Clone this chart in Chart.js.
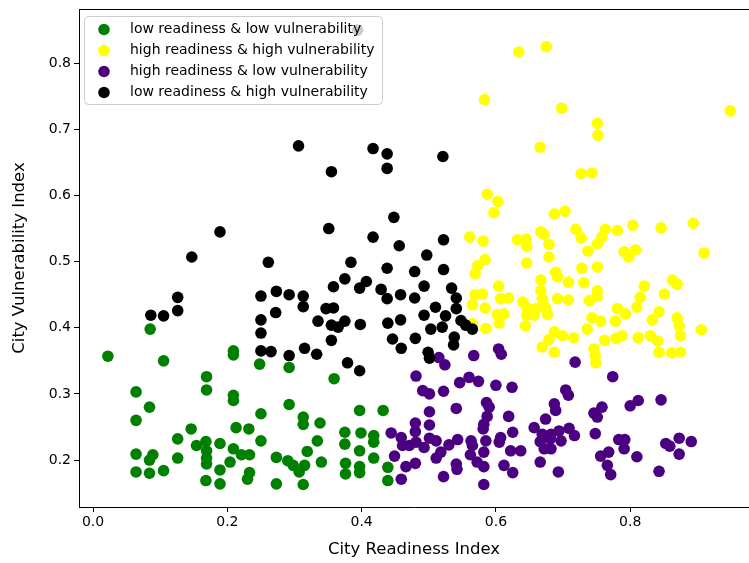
<!DOCTYPE html>
<html>
<head>
<meta charset="utf-8">
<script src="https://cdn.jsdelivr.net/npm/chart.js@4.4.1/dist/chart.umd.min.js"></script>
<style>
  html, body { margin: 0; padding: 0; background: #fff; overflow: hidden; }
  #wrap { width: 749px; height: 563px; overflow: hidden; }
  canvas { display: block; }
</style>
</head>
<body>
<div id="wrap"><canvas id="myChart" width="749" height="563"></canvas></div>
<script>
// [readiness, vulnerability] per city
var lowLow = [
  [0.022,0.357],[0.105,0.350],[0.085,0.398],[0.209,0.365],[0.209,0.359],[0.169,0.326],
  [0.169,0.306],[0.064,0.303],[0.209,0.298],[0.209,0.290],[0.084,0.280],[0.064,0.260],
  [0.146,0.247],[0.213,0.249],[0.126,0.232],[0.154,0.222],[0.168,0.228],[0.189,0.225],
  [0.169,0.214],[0.209,0.217],[0.221,0.208],[0.064,0.209],[0.089,0.208],[0.084,0.200],
  [0.126,0.203],[0.169,0.203],[0.169,0.194],[0.204,0.197],[0.064,0.182],[0.084,0.180],
  [0.105,0.184],[0.189,0.185],[0.168,0.169],[0.189,0.164],
  [0.248,0.345],[0.292,0.340],[0.359,0.323],[0.292,0.284],[0.250,0.270],[0.397,0.275],
  [0.432,0.275],[0.313,0.265],[0.313,0.254],[0.338,0.256],[0.232,0.247],[0.375,0.242],
  [0.399,0.241],[0.418,0.237],[0.250,0.229],[0.334,0.229],[0.375,0.224],[0.418,0.227],
  [0.397,0.214],[0.319,0.213],[0.233,0.208],[0.273,0.204],[0.418,0.203],[0.290,0.199],
  [0.298,0.192],[0.315,0.192],[0.340,0.197],[0.307,0.182],[0.376,0.195],[0.397,0.190],
  [0.376,0.179],[0.397,0.181],[0.233,0.181],[0.230,0.171],[0.439,0.189],[0.439,0.169],
  [0.273,0.164],[0.313,0.163]
];
var highHigh = [
  [0.634,0.817],[0.675,0.825],[0.583,0.745],[0.698,0.732],[0.666,0.673],[0.727,0.633],
  [0.949,0.728],[0.751,0.709],[0.752,0.691],[0.743,0.634],
  [0.587,0.602],[0.603,0.591],[0.597,0.574],[0.687,0.572],[0.703,0.576],[0.561,0.537],
  [0.581,0.531],[0.632,0.533],[0.645,0.534],[0.646,0.523],[0.667,0.545],[0.672,0.541],
  [0.679,0.526],[0.719,0.549],[0.727,0.536],[0.679,0.507],[0.584,0.503],[0.573,0.494],
  [0.569,0.482],[0.646,0.498],[0.728,0.490],[0.689,0.484],[0.692,0.477],[0.667,0.472],
  [0.708,0.469],[0.731,0.468],[0.604,0.463],[0.667,0.456],[0.569,0.450],[0.580,0.451],
  [0.607,0.444],[0.619,0.445],[0.640,0.439],[0.669,0.444],[0.692,0.444],[0.708,0.442],
  [0.565,0.435],[0.584,0.430],[0.646,0.431],[0.660,0.429],[0.674,0.431],[0.602,0.420],
  [0.612,0.421],[0.646,0.419],[0.657,0.419],[0.677,0.420],[0.585,0.399],[0.605,0.407],
  [0.644,0.403],[0.565,0.406],[0.687,0.394],[0.699,0.388],[0.716,0.385],[0.679,0.382],
  [0.804,0.555],[0.846,0.551],[0.894,0.558],[0.763,0.549],[0.781,0.547],[0.758,0.537],
  [0.751,0.527],[0.737,0.516],[0.791,0.515],[0.808,0.518],[0.798,0.507],[0.910,0.513],
  [0.751,0.492],[0.863,0.472],[0.870,0.466],[0.821,0.463],[0.751,0.456],[0.751,0.448],
  [0.851,0.451],[0.739,0.441],[0.815,0.446],[0.810,0.431],[0.781,0.429],[0.793,0.421],
  [0.843,0.424],[0.833,0.412],[0.870,0.415],[0.743,0.415],[0.756,0.410],[0.778,0.410],
  [0.873,0.403],[0.875,0.388],[0.906,0.397],[0.736,0.398],[0.762,0.381],[0.779,0.384],
  [0.788,0.388],[0.812,0.385],[0.830,0.388],[0.841,0.380],[0.843,0.363],[0.862,0.362],
  [0.875,0.363],[0.746,0.368],[0.748,0.358],[0.749,0.347],[0.669,0.371],[0.687,0.363]
];
var highLow = [
  [0.774,0.326],[0.846,0.291],[0.812,0.290],[0.800,0.282],[0.758,0.280],[0.746,0.271],
  [0.751,0.265],[0.748,0.240],[0.783,0.231],[0.792,0.231],[0.791,0.217],[0.853,0.225],
  [0.859,0.221],[0.873,0.233],[0.891,0.228],[0.873,0.209],[0.768,0.212],[0.756,0.206],
  [0.810,0.205],[0.766,0.192],[0.771,0.178],[0.843,0.183],
  [0.515,0.355],[0.524,0.344],[0.567,0.358],[0.604,0.368],[0.608,0.360],[0.718,0.348],
  [0.481,0.327],[0.546,0.317],[0.560,0.325],[0.574,0.319],[0.600,0.313],[0.624,0.310],
  [0.491,0.305],[0.501,0.300],[0.522,0.304],[0.704,0.306],[0.708,0.298],[0.586,0.287],
  [0.541,0.278],[0.590,0.280],[0.687,0.285],[0.689,0.275],[0.501,0.273],[0.587,0.266],
  [0.619,0.266],[0.674,0.262],[0.480,0.256],[0.501,0.253],[0.582,0.254],[0.657,0.249],
  [0.581,0.247],[0.709,0.248],[0.480,0.243],[0.625,0.242],[0.669,0.239],[0.682,0.239],
  [0.694,0.244],[0.717,0.237],[0.501,0.233],[0.511,0.229],[0.543,0.231],[0.563,0.229],
  [0.585,0.229],[0.607,0.234],[0.605,0.227],[0.481,0.227],[0.493,0.219],[0.530,0.223],
  [0.565,0.222],[0.666,0.228],[0.681,0.232],[0.697,0.229],[0.672,0.217],[0.682,0.217],
  [0.622,0.214],[0.637,0.214],[0.582,0.212],[0.518,0.212],[0.562,0.208],[0.511,0.203],
  [0.572,0.197],[0.480,0.195],[0.541,0.194],[0.666,0.197],[0.612,0.192],[0.582,0.190],
  [0.542,0.186],[0.625,0.181],[0.522,0.175],[0.693,0.182],[0.582,0.163],
  [0.444,0.241],[0.459,0.234],[0.471,0.222],[0.449,0.206],[0.466,0.190],[0.459,0.171],
  [0.461,0.222]
];
var lowHigh = [
  [0.394,0.850],[0.306,0.675],[0.417,0.671],[0.438,0.663],[0.438,0.641],[0.355,0.636],
  [0.521,0.659],[0.189,0.545],[0.147,0.507],[0.126,0.446],[0.126,0.426],[0.086,0.419],
  [0.105,0.418],
  [0.448,0.567],[0.351,0.550],[0.417,0.537],[0.456,0.524],[0.261,0.499],[0.384,0.499],
  [0.438,0.490],[0.479,0.485],[0.375,0.474],[0.407,0.470],[0.358,0.462],[0.397,0.460],
  [0.429,0.458],[0.273,0.455],[0.292,0.450],[0.250,0.448],[0.313,0.448],[0.438,0.444],
  [0.458,0.450],[0.479,0.445],[0.313,0.432],[0.347,0.429],[0.358,0.430],[0.272,0.423],
  [0.250,0.412],[0.335,0.410],[0.375,0.410],[0.355,0.404],[0.365,0.401],[0.398,0.405],
  [0.439,0.407],[0.458,0.412],[0.250,0.392],[0.355,0.381],[0.446,0.383],[0.480,0.384],
  [0.522,0.533],[0.497,0.510],[0.522,0.488],[0.493,0.463],[0.534,0.460],[0.541,0.445],
  [0.510,0.431],[0.541,0.429],[0.525,0.418],[0.493,0.419],[0.548,0.411],[0.555,0.404],
  [0.503,0.398],[0.520,0.401],[0.565,0.398],[0.538,0.386],[0.537,0.374],[0.499,0.363],
  [0.501,0.354],
  [0.250,0.365],[0.265,0.364],[0.292,0.358],[0.315,0.369],[0.333,0.360],[0.379,0.347],
  [0.397,0.335],[0.459,0.369]
];

var groupNames = [
  'low readiness & low vulnerability',
  'high readiness & high vulnerability',
  'high readiness & low vulnerability',
  'low readiness & high vulnerability'
];
var groupColors = ['green', 'yellow', 'indigo', 'black'];
var xTicks = [0.0, 0.2, 0.4, 0.6, 0.8];
var yTicks = [0.2, 0.3, 0.4, 0.5, 0.6, 0.7, 0.8];

function toPoints(arr) {
  return arr.map(function(p) { return {x: p[0], y: p[1]}; });
}

const tickFont = {family: 'DejaVu Sans', size: 14};
const titleFont = {family: 'DejaVu Sans', size: 16.5};

// matplotlib-like legend box drawn on top of the points
const boxLegend = {
  id: 'boxLegend',
  afterDraw(chart) {
    const ctx = chart.ctx;
    const x0 = 84, y0 = 16, w = 298, h = 88;
    ctx.save();
    ctx.fillStyle = 'rgba(255,255,255,0.8)';
    ctx.strokeStyle = '#cccccc';
    ctx.lineWidth = 1;
    ctx.beginPath();
    ctx.roundRect(x0 + 0.5, y0 + 0.5, w, h, 4);
    ctx.fill();
    ctx.stroke();
    ctx.font = '14px "DejaVu Sans"';
    ctx.textBaseline = 'middle';
    groupNames.forEach(function(name, i) {
      const cy = 29.5 + i * 21;
      ctx.fillStyle = groupColors[i];
      ctx.beginPath();
      ctx.arc(104, cy, 5.8, 0, Math.PI * 2);
      ctx.fill();
      ctx.fillStyle = '#000';
      ctx.fillText(name, 130, cy);
    });
    ctx.restore();
  }
};

// top spine
const topSpine = {
  id: 'topSpine',
  afterDraw(chart) {
    const {ctx, chartArea: {left, right, top}} = chart;
    ctx.save();
    ctx.strokeStyle = '#000';
    ctx.lineWidth = 1;
    ctx.beginPath();
    ctx.moveTo(left, top + 0.5);
    ctx.lineTo(right, top + 0.5);
    ctx.stroke();
    ctx.restore();
  }
};

var datasets = [lowLow, highHigh, highLow, lowHigh].map(function(arr, i) {
  return {
    label: groupNames[i],
    data: toPoints(arr),
    backgroundColor: groupColors[i],
    borderWidth: 0,
    pointRadius: 5.8,
    pointHoverRadius: 5.8,
    order: 4 - i
  };
});

var scatterChart = new Chart(document.getElementById('myChart'), {
  type: 'scatter',
  data: { datasets: datasets },
  options: {
    responsive: false,
    animation: false,
    devicePixelRatio: 1,
    layout: { autoPadding: false, padding: { left: 0, top: 9, right: 0, bottom: 0 } },
    plugins: {
      legend: { display: false },
      tooltip: { enabled: false }
    },
    scales: {
      x: {
        type: 'linear',
        min: -0.021,
        max: 0.977,
        afterBuildTicks: function(s) { s.ticks = xTicks.map(function(v) { return {value: v}; }); },
        afterFit: function(s) {
          s.height = 56;
          s.paddingLeft = 0;
          s.paddingRight = 0;
        },
        ticks: {
          callback: function(v) { return v.toFixed(1); },
          font: tickFont, color: '#000', padding: 2, maxRotation: 0, autoSkip: false
        },
        grid: { drawOnChartArea: false, drawTicks: true, tickLength: 5, color: '#000' },
        border: { display: true, color: '#000', width: 1 },
        title: {
          display: true, text: 'City Readiness Index', font: titleFont, color: '#000',
          padding: { top: 0, bottom: 3 }
        }
      },
      y: {
        type: 'linear',
        min: 0.129,
        max: 0.882,
        afterBuildTicks: function(s) { s.ticks = yTicks.map(function(v) { return {value: v}; }); },
        afterFit: function(s) {
          s.width = 79;
          s.paddingTop = 0;
          s.paddingBottom = 0;
        },
        ticks: {
          callback: function(v) { return v.toFixed(1); },
          font: tickFont, color: '#000', padding: 3, autoSkip: false
        },
        grid: { drawOnChartArea: false, drawTicks: true, tickLength: 5, color: '#000' },
        border: { display: true, color: '#000', width: 1 },
        title: {
          display: true, text: 'City Vulnerability Index', font: titleFont, color: '#000',
          padding: { top: 10, bottom: 0 }
        }
      }
    }
  },
  plugins: [topSpine, boxLegend]
});
</script>
</body>
</html>
